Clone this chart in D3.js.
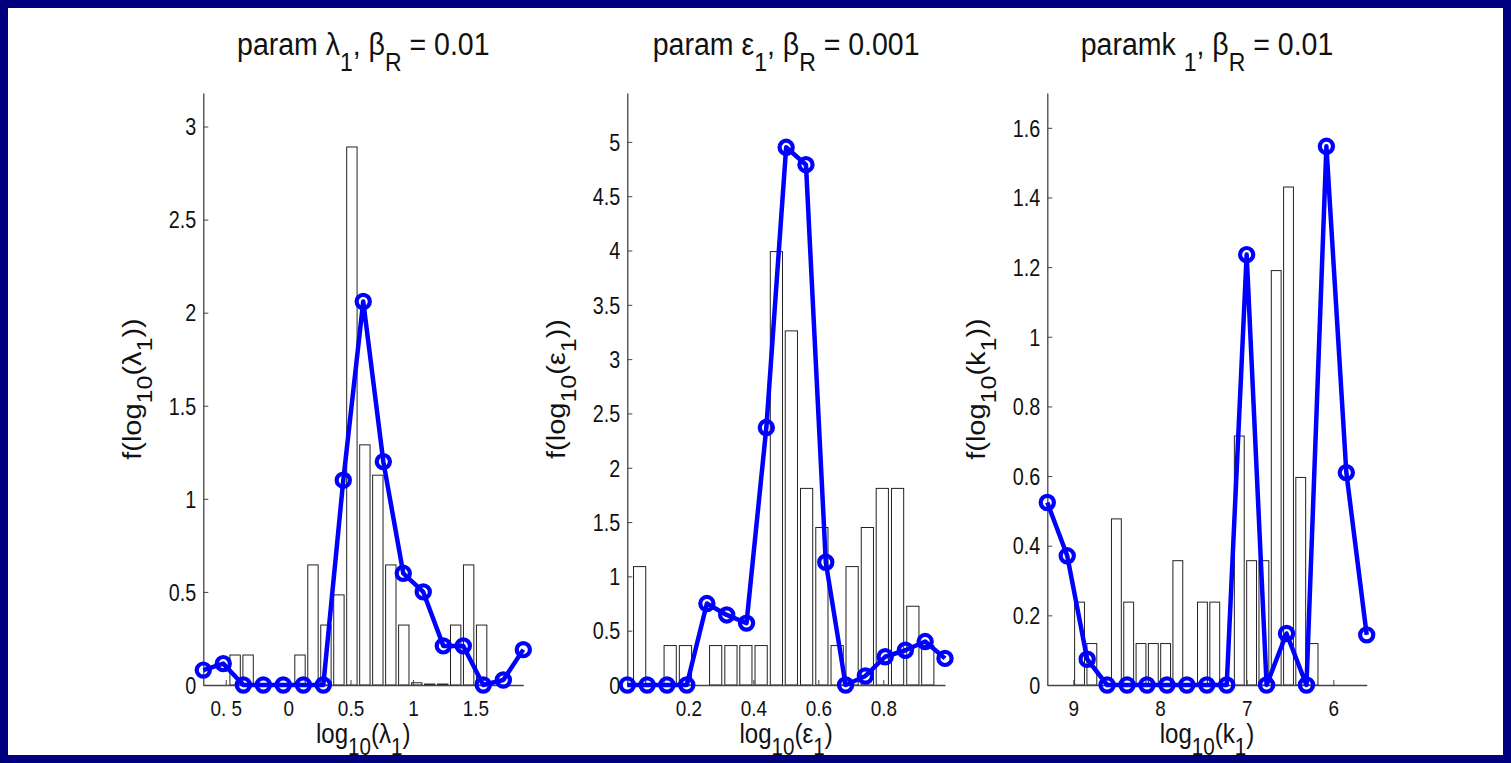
<!DOCTYPE html>
<html>
<head>
<meta charset="utf-8">
<script src="https://cdn.jsdelivr.net/npm/d3@7"></script>
<style>
  html, body { margin: 0; padding: 0; background: #000080; }
  svg { display: block; }
  text { font-family: "Liberation Sans", Arial, Helvetica, sans-serif; fill: #111; }
</style>
</head>
<body>
<svg id="fig"></svg>
<script>
// ---- panel 1: lambda_1 ----
const lamLineX = [-0.680, -0.520, -0.359, -0.199, -0.039, 0.122, 0.282, 0.442, 0.602,
                  0.763, 0.923, 1.083, 1.244, 1.404, 1.564, 1.725, 1.885];
const lamLineY = [0.08, 0.115, 0, 0, 0, 0, 0, 1.10, 2.06, 1.20, 0.60, 0.50, 0.21, 0.21, 0, 0.027, 0.19];
const lamBarX = [-0.425, -0.321, -0.217, -0.113, -0.009, 0.095, 0.199, 0.303, 0.407, 0.511,
                 0.615, 0.719, 0.823, 0.927, 1.031, 1.135, 1.239, 1.343, 1.447, 1.551];
const lamBarY = [0.161, 0.161, 0, 0, 0, 0.161, 0.645, 0.322, 0.484, 2.89,
                 1.29, 1.127, 0.645, 0.322, 0.012, 0.005, 0.005, 0.322, 0.645, 0.322];
const lamYMax = 3.18;
const lamXTicks = [-0.5, 0, 0.5, 1, 1.5];
const lamXTickLabels = ["0. 5", "0", "0.5", "1", "1.5"];
const lamYTicks = [0, 0.5, 1, 1.5, 2, 2.5, 3];
const lamYTickLabels = ["0", "0.5", "1", "1.5", "2", "2.5", "3"];

// ---- panel 2: epsilon_1 ----
const epsLineX = [0.012, 0.073, 0.134, 0.195, 0.257, 0.318, 0.379, 0.440, 0.501,
                  0.562, 0.623, 0.684, 0.745, 0.806, 0.868, 0.929, 0.990];
const epsLineY = [0, 0, 0, 0, 0.75, 0.645, 0.57, 2.37, 4.95, 4.79, 1.13, 0, 0.083, 0.26, 0.32, 0.40, 0.245];
const epsBarX = [0.050, 0.097, 0.144, 0.191, 0.237, 0.284, 0.331, 0.377, 0.424, 0.471,
                 0.517, 0.564, 0.611, 0.658, 0.704, 0.751, 0.797, 0.844, 0.891, 0.937];
const epsBarY = [1.09, 0, 0.363, 0.363, 0, 0.363, 0.363, 0.363, 0.363, 3.99,
                 3.26, 1.81, 1.45, 0.363, 1.09, 1.45, 1.81, 1.81, 0.725, 0.363];
const epsYMax = 5.45;
const epsXTicks = [0.2, 0.4, 0.6, 0.8];
const epsXTickLabels = ["0.2", "0.4", "0.6", "0.8"];
const epsYTicks = [0, 0.5, 1, 1.5, 2, 2.5, 3, 3.5, 4, 4.5, 5];
const epsYTickLabels = ["0", "0.5", "1", "1.5", "2", "2.5", "3", "3.5", "4", "4.5", "5"];

// ---- panel 3: k_1 ----
const kLineX = [-9.30, -9.07, -8.84, -8.61, -8.38, -8.15, -7.92, -7.69, -7.46,
                -7.23, -7.00, -6.77, -6.54, -6.31, -6.08, -5.85, -5.615];
const kLineY = [0.524, 0.371, 0.074, 0, 0, 0, 0, 0, 0, 0, 1.236, 0, 0.148, 0, 1.547, 0.61, 0.144];
const kBarX = [-8.928, -8.786, -8.644, -8.503, -8.361, -8.219, -8.077, -7.935, -7.794, -7.652,
               -7.510, -7.368, -7.226, -7.085, -6.943, -6.801, -6.659, -6.517, -6.376, -6.234];
const kBarY = [0.238, 0.119, 0, 0.477, 0.238, 0.119, 0.119, 0.119, 0.357, 0,
               0.238, 0.238, 0, 0.715, 0.357, 0.357, 1.19, 1.43, 0.596, 0.119];
const kYMax = 1.70;
const kXTicks = [-9, -8, -7, -6];
const kXTickLabels = ["9", "8", "7", "6"];
const kYTicks = [0, 0.2, 0.4, 0.6, 0.8, 1, 1.2, 1.4, 1.6];
const kYTickLabels = ["0", "0.2", "0.4", "0.6", "0.8", "1", "1.2", "1.4", "1.6"];

const W = 1511, H = 763;
const svg = d3.select("#fig").attr("width", W).attr("height", H);

// navy frame, white page
svg.append("rect").attr("width", W).attr("height", H).attr("fill", "#000080");
svg.append("rect").attr("x", 8).attr("y", 8).attr("width", W - 16).attr("height", H - 16).attr("fill", "#fff");

const plotTop = 93, plotBottom = 685;
const SX = 0.86; // text looks squeezed horizontally

// text with subscripts; parts = [[string, isSub], ...]
function richText(parent, x, y, parts, opt) {
  const g = parent.append("g")
    .attr("transform", `translate(${x},${y}) scale(${opt.sx},1)` + (opt.rotate ? ` rotate(${opt.rotate})` : ""));
  const t = g.append("text")
    .attr("text-anchor", "middle")
    .attr("font-size", opt.size);
  let down = false;
  parts.forEach(([s, sub]) => {
    const ts = t.append("tspan").text(s);
    if (sub) {
      ts.attr("font-size", opt.subSize);
      if (!down) ts.attr("dy", opt.subDy);
      down = true;
    } else {
      if (down) ts.attr("dy", -opt.subDy);
      down = false;
    }
  });
  return g;
}

const panels = [
  {
    left: 203.3, right: 523.3,
    lineX: lamLineX, lineY: lamLineY, barX: lamBarX, barY: lamBarY, yMax: lamYMax,
    xTicks: lamXTicks, xTickLabels: lamXTickLabels, yTicks: lamYTicks, yTickLabels: lamYTickLabels,
    title: [["param λ", false], ["1", true], [", β", false], ["R", true], [" = 0.01", false]],
    xlabel: [["log", false], ["10", true], ["(λ", false], ["1", true], [")", false]],
    ylabel: [["f(log", false], ["10", true], ["(λ", false], ["1", true], ["))", false]]
  },
  {
    left: 627.3, right: 945,
    lineX: epsLineX, lineY: epsLineY, barX: epsBarX, barY: epsBarY, yMax: epsYMax,
    xTicks: epsXTicks, xTickLabels: epsXTickLabels, yTicks: epsYTicks, yTickLabels: epsYTickLabels,
    title: [["param ε", false], ["1", true], [", β", false], ["R", true], [" = 0.001", false]],
    xlabel: [["log", false], ["10", true], ["(ε", false], ["1", true], [")", false]],
    ylabel: [["f(log", false], ["10", true], ["(ε", false], ["1", true], ["))", false]]
  },
  {
    left: 1047.3, right: 1366.7,
    lineX: kLineX, lineY: kLineY, barX: kBarX, barY: kBarY, yMax: kYMax,
    xTicks: kXTicks, xTickLabels: kXTickLabels, yTicks: kYTicks, yTickLabels: kYTickLabels,
    title: [["paramk ", false], ["1", true], [", β", false], ["R", true], [" = 0.01", false]],
    xlabel: [["log", false], ["10", true], ["(k", false], ["1", true], [")", false]],
    ylabel: [["f(log", false], ["10", true], ["(k", false], ["1", true], ["))", false]]
  }
];

panels.forEach(p => {
  const x = d3.scaleLinear().domain(d3.extent(p.lineX)).range([p.left, p.right]);
  const y = d3.scaleLinear().domain([0, p.yMax]).range([plotBottom, plotTop]);
  const g = svg.append("g");

  // histogram bars
  const pitch = x(p.barX[1]) - x(p.barX[0]);
  const bw = pitch * 0.8;
  g.selectAll(".bar")
    .data(p.barX.map((v, i) => ({ x: v, y: p.barY[i] })).filter(d => d.y > 0))
    .enter().append("rect")
    .attr("class", "bar")
    .attr("x", d => x(d.x) - bw / 2)
    .attr("y", d => y(d.y))
    .attr("width", bw)
    .attr("height", d => plotBottom - y(d.y))
    .attr("fill", "#fff")
    .attr("stroke", "#222")
    .attr("stroke-width", 1);

  // axes (ticks point inward)
  const yAxis = g.append("g")
    .attr("transform", `translate(${p.left},0)`)
    .call(d3.axisLeft(y).tickValues(p.yTicks).tickSizeInner(-5).tickSizeOuter(0));
  const xAxis = g.append("g")
    .attr("transform", `translate(0,${plotBottom})`)
    .call(d3.axisBottom(x).tickValues(p.xTicks).tickSizeInner(-5).tickSizeOuter(0));

  [yAxis, xAxis].forEach(a => {
    a.select(".domain").attr("stroke", "#444").attr("stroke-width", 1.3);
    a.selectAll(".tick line").attr("stroke", "#444").attr("stroke-width", 1);
    a.selectAll(".tick text").remove();
  });

  yAxis.selectAll(".tick").each(function (d, i) {
    d3.select(this).append("g")
      .attr("transform", `translate(-7,0) scale(${SX},1)`)
      .append("text")
      .attr("text-anchor", "end")
      .attr("dy", "0.36em")
      .attr("font-size", 23)
      .text(p.yTickLabels[i]);
  });
  xAxis.selectAll(".tick").each(function (d, i) {
    d3.select(this).append("g")
      .attr("transform", `translate(0,30.5) scale(${SX},1)`)
      .append("text")
      .attr("text-anchor", "middle")
      .attr("font-size", 22)
      .text(p.xTickLabels[i]);
  });

  // fitted density line with open circle markers
  const line = d3.line().x(d => x(d[0])).y(d => y(d[1]));
  const pts = p.lineX.map((v, i) => [v, p.lineY[i]]);
  g.append("path")
    .datum(pts)
    .attr("d", line)
    .attr("fill", "none")
    .attr("stroke", "#0000ff")
    .attr("stroke-width", 4.5)
    .attr("stroke-linejoin", "round");
  g.selectAll(".mk")
    .data(pts)
    .enter().append("circle")
    .attr("class", "mk")
    .attr("cx", d => x(d[0]))
    .attr("cy", d => y(d[1]))
    .attr("r", 6.6)
    .attr("fill", "none")
    .attr("stroke", "#0000ff")
    .attr("stroke-width", 4.2);

  const cx = (p.left + p.right) / 2;
  richText(g, cx, 55, p.title, { sx: 0.92, size: 31, subSize: 25, subDy: 16 });
  richText(g, cx, 742.5, p.xlabel, { sx: SX, size: 28, subSize: 24, subDy: 12 });
  richText(g, p.left - 62, (plotTop + plotBottom) / 2, p.ylabel,
           { sx: SX, size: 29, subSize: 25, subDy: 13, rotate: -90 });
});
</script>
</body>
</html>
